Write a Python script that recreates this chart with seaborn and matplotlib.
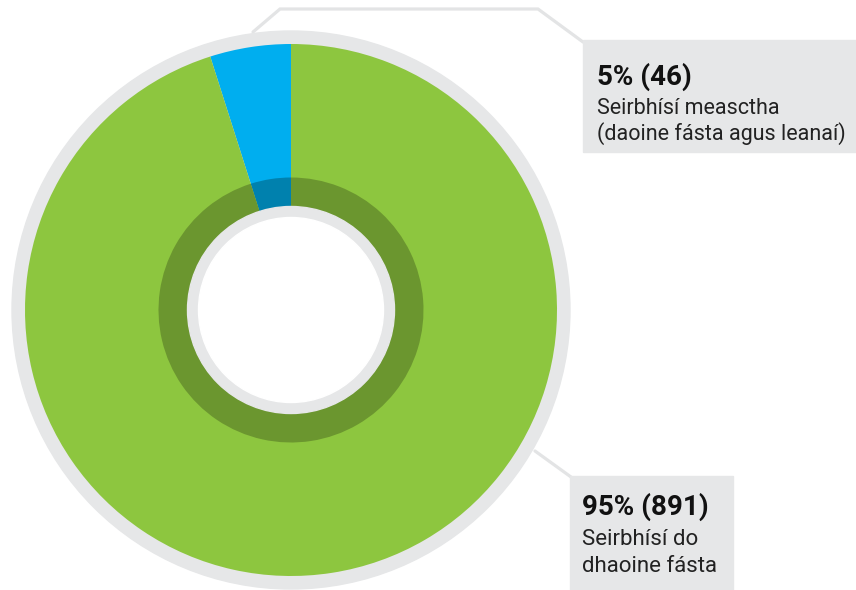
import matplotlib
matplotlib.use("Agg")
import matplotlib.pyplot as plt
import seaborn as sns
from matplotlib.patches import Circle, Rectangle

# ---- data ----
categories = ["Seirbhísí measctha\n(daoine fásta agus leanaí)", "Seirbhísí do\ndhaoine fásta"]
counts = [46, 891]
percents = [5, 95]
outer_colors = ["#00aeef", "#8dc63f"]
inner_colors = ["#0081ae", "#6b962f"]

sns.set_theme(style="white")
plt.rcParams['font.family'] = ['Roboto', 'DejaVu Sans']

W, H = 856, 590
fig = plt.figure(figsize=(W / 100, H / 100), dpi=100)
ax = fig.add_axes([0, 0, 1, 1])

def Y(y):
    return H - y

cx, cy = 291, Y(310)
gray = "#e6e7e8"

# outer gray ring
ax.add_patch(Circle((cx, cy), 279, color=gray, zorder=1))
# main donut
ax.pie(counts, colors=outer_colors, radius=266, center=(cx, cy), startangle=90,
       counterclock=True, wedgeprops=dict(linewidth=0), frame=True)
# inner dark ring
ax.pie(counts, colors=inner_colors, radius=132.5, center=(cx, cy), startangle=90,
       counterclock=True, wedgeprops=dict(linewidth=0), frame=True)
ax.add_patch(Circle((cx, cy), 103.5, color=gray, zorder=5))
ax.add_patch(Circle((cx, cy), 92.5, color="white", zorder=6))
ax.set_xlim(0, W)
ax.set_ylim(0, H)
ax.set_aspect('equal')
ax.axis('off')

# leader lines
lc = "#e3e4e5"
ax.plot([253, 280, 538, 583], [Y(32), Y(9), Y(9), Y(42)], color=lc, lw=2.3, zorder=0,
        solid_joinstyle='miter')
ax.plot([535, 571], [Y(451), Y(477)], color=lc, lw=2.3, zorder=0)

# label boxes
ax.add_patch(Rectangle((583, Y(152)), W - 583, 112, color=gray, zorder=2))
ax.add_patch(Rectangle((570, Y(590)), 733 - 570, 114, color=gray, zorder=2))

# labels
top_lines = categories[0].split("\n")
ax.text(597, Y(85), f"{percents[0]}% ({counts[0]})", fontsize=20, fontweight='bold',
        color="#111111", va='baseline', ha='left', zorder=3)
ax.text(597, Y(114), top_lines[0], fontsize=15.5, color="#222222", va='baseline', zorder=3)
ax.text(597, Y(140), top_lines[1], fontsize=15.5, color="#222222", va='baseline', zorder=3)

bot_lines = categories[1].split("\n")
ax.text(582, Y(515), f"{percents[1]}% ({counts[1]})", fontsize=20, fontweight='bold',
        color="#111111", va='baseline', ha='left', zorder=3)
ax.text(582, Y(545), bot_lines[0], fontsize=16, color="#222222", va='baseline', zorder=3)
ax.text(582, Y(572), bot_lines[1], fontsize=16, color="#222222", va='baseline', zorder=3)

fig.savefig("out.png", dpi=100)
